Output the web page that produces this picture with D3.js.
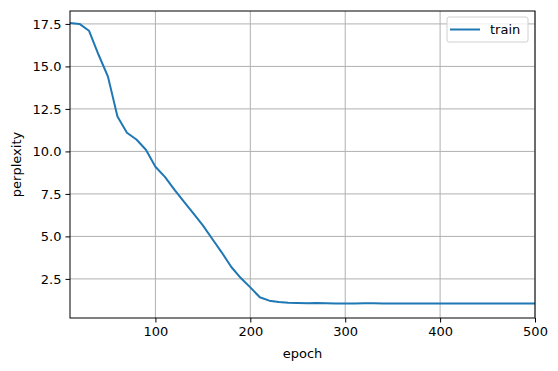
<!DOCTYPE html>
<html lang="en">
<head>
<meta charset="UTF-8"/>
<title>perplexity</title>
<script src="https://d3js.org/d3.v7.min.js"></script>
<style>
  body { margin: 0; background: #fff; }
  text { font-family: "DejaVu Sans", sans-serif; }
</style>
</head>
<body>
<script>
// epochs 10..500, step 10
var epochs = [10,20,30,40,50,60,70,80,90,100,110,120,130,140,150,160,170,180,190,200,
              210,220,230,240,250,260,270,280,290,300,310,320,330,340,350,360,370,380,390,400,
              410,420,430,440,450,460,470,480,490,500];
var perplexity = [17.55,17.5,17.1,15.7,14.4,12.05,11.1,10.7,10.1,9.1,
                  8.5,7.75,7.05,6.35,5.65,4.85,4.05,3.2,2.55,2.0,
                  1.42,1.22,1.14,1.1,1.08,1.07,1.08,1.07,1.06,1.06,
                  1.05,1.07,1.07,1.06,1.05,1.06,1.05,1.06,1.05,1.05,
                  1.05,1.05,1.06,1.05,1.06,1.05,1.05,1.05,1.05,1.05];
var xTicks = [100,200,300,400,500];
var yTicks = [2.5,5.0,7.5,10.0,12.5,15.0,17.5];

var w = 558, h = 371;
var mLeft = 70, mRight = 535, mTop = 11, mBottom = 318;
var fs = "13px";

var svg = d3.select("body").append("svg")
    .attr("width", w).attr("height", h);

var xScale = d3.scaleLinear().domain([10, 500]).range([mLeft, mRight]);
var yScale = d3.scaleLinear().domain([0.2, 18.26]).range([mBottom, mTop]);

// grid
svg.selectAll(".gx").data(xTicks).enter().append("line")
    .attr("x1", function(d) { return xScale(d); })
    .attr("x2", function(d) { return xScale(d); })
    .attr("y1", mTop).attr("y2", mBottom)
    .attr("stroke", "#b0b0b0").attr("stroke-width", 1);
svg.selectAll(".gy").data(yTicks).enter().append("line")
    .attr("y1", function(d) { return yScale(d); })
    .attr("y2", function(d) { return yScale(d); })
    .attr("x1", mLeft).attr("x2", mRight)
    .attr("stroke", "#b0b0b0").attr("stroke-width", 1);

// line
var line = d3.line()
    .x(function(d, i) { return xScale(epochs[i]); })
    .y(function(d) { return yScale(d); });
svg.append("path").datum(perplexity)
    .attr("d", line)
    .attr("fill", "none")
    .attr("stroke", "#1f77b4")
    .attr("stroke-width", 2)
    .attr("stroke-linejoin", "round");

// axes
var xAxis = d3.axisBottom(xScale).tickValues(xTicks).tickSize(4.5).tickPadding(4)
    .tickFormat(d3.format("d"));
var yAxis = d3.axisLeft(yScale).tickValues(yTicks).tickSize(4.5).tickPadding(4)
    .tickFormat(d3.format(".1f"));
var gx = svg.append("g").attr("transform", "translate(0," + mBottom + ")").call(xAxis);
var gy = svg.append("g").attr("transform", "translate(" + mLeft + ",0)").call(yAxis);
[gx, gy].forEach(function(g) {
    g.select(".domain").remove();
    g.selectAll("text").attr("font-size", fs).attr("fill", "#000")
        .attr("font-family", "DejaVu Sans, sans-serif");
    g.selectAll("line").attr("stroke", "#000").attr("stroke-width", 1);
});

// frame
svg.append("rect").attr("x", mLeft).attr("y", mTop)
    .attr("width", mRight - mLeft).attr("height", mBottom - mTop)
    .attr("fill", "none").attr("stroke", "#000").attr("stroke-width", 1);

// labels
svg.append("text").attr("x", (mLeft + mRight) / 2).attr("y", 358)
    .attr("text-anchor", "middle").attr("font-size", fs).text("epoch");
svg.append("text")
    .attr("transform", "translate(21," + ((mTop + mBottom) / 2) + ") rotate(-90)")
    .attr("text-anchor", "middle").attr("font-size", fs).text("perplexity");

// legend
var lg = svg.append("g");
lg.append("rect").attr("x", 447).attr("y", 17).attr("width", 81).attr("height", 25)
    .attr("rx", 2).attr("fill", "#fff").attr("fill-opacity", 0.8)
    .attr("stroke", "#d0d0d0").attr("stroke-width", 1);
lg.append("line").attr("x1", 450).attr("x2", 480).attr("y1", 29.5).attr("y2", 29.5)
    .attr("stroke", "#1f77b4").attr("stroke-width", 2);
lg.append("text").attr("x", 490).attr("y", 34).attr("font-size", fs).text("train");
</script>
</body>
</html>
